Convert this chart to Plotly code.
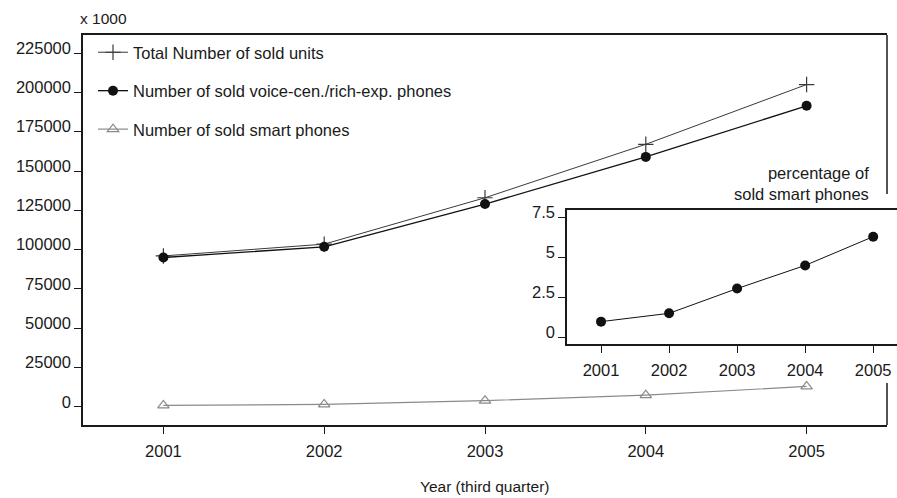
import plotly.graph_objects as go

# Sales of mobile phones, third quarter of each year (in thousands of units)
years = [2001, 2002, 2003, 2004, 2005]
total_units = [96000, 103500, 133000, 167000, 205000]
voice_rich_units = [95000, 101800, 129000, 159000, 191500]
smart_units = [950, 1600, 4000, 7500, 13000]

# Share of smart phones in all sold units (%)
smart_share = [0.98, 1.5, 3.05, 4.5, 6.3]

y_ticks = [0, 25000, 50000, 75000, 100000, 125000, 150000, 175000, 200000, 225000]
inset_ticks = [0, 2.5, 5, 7.5]

FONT = "Liberation Sans, Arial, sans-serif"
FS = 16.5
TXT = "#1a1a1a"

W, H = 897, 498
L, T, B = 83, 35, 73
plot_w = W - L
plot_h = H - T - B


def px_x(x):
    return (x - L) / plot_w


def px_y(y):
    return (H - B - y) / plot_h


main_right = px_x(887)

fig = go.Figure()

fig.add_trace(go.Scatter(
    x=years, y=total_units, mode="lines+markers",
    name="Total Number of sold units", legendgroup="a",
    line=dict(color="#3a3a3a", width=1),
    marker=dict(symbol="cross-thin", size=11, line=dict(color="#3a3a3a", width=1.2)),
))
fig.add_trace(go.Scatter(
    x=years, y=voice_rich_units, mode="lines+markers",
    name="Number of sold voice-cen./rich-exp. phones", legendgroup="b",
    line=dict(color="#111111", width=1.3),
    marker=dict(symbol="circle", size=10, color="#111111"),
))
fig.add_trace(go.Scatter(
    x=years, y=smart_units, mode="lines+markers",
    name="Number of sold smart phones", legendgroup="c",
    line=dict(color="#8a8a8a", width=1.2),
    marker=dict(symbol="triangle-up-open", size=10, color="#8a8a8a",
                line=dict(color="#8a8a8a", width=1.2)),
))

# Inset: percentage of smart phones
fig.add_trace(go.Scatter(
    x=years, y=smart_share, mode="lines+markers", xaxis="x2", yaxis="y2",
    showlegend=False,
    line=dict(color="#111111", width=1),
    marker=dict(symbol="circle", size=10, color="#111111"),
))

axis_common = dict(
    showgrid=False, zeroline=False, showline=True, linecolor="#1a1a1a", linewidth=1.5,
    ticks="outside", ticklen=7, tickcolor="#1a1a1a", tickwidth=1,
    tickfont=dict(family=FONT, size=FS, color=TXT),
)

fig.update_layout(
    width=W, height=H,
    margin=dict(l=L, r=0, t=T, b=B),
    paper_bgcolor="white", plot_bgcolor="white",
    font=dict(family=FONT, size=FS, color=TXT),
    xaxis=dict(axis_common, domain=[0, main_right], range=[2000.5, 2005.5],
               tickvals=years, ticktext=[str(y) for y in years], mirror=True,
               ticklabelstandoff=3),
    yaxis=dict(axis_common, domain=[0, 1], range=[-11500, 236500],
               tickvals=y_ticks, ticktext=[str(v) for v in y_ticks], ticklabelshift=-5),
    xaxis2=dict(axis_common, anchor="y2", domain=[px_x(567), 1], range=[2000.5, 2005.35],
                tickvals=years, ticktext=[str(y) for y in years], mirror=True,
                ticklabelstandoff=3),
    yaxis2=dict(axis_common, anchor="x2", domain=[px_y(344), px_y(210)], range=[-0.42, 7.97],
                tickvals=inset_ticks, ticktext=["0", "2.5", "5", "7.5"], ticklabelshift=-5),
    legend=dict(x=px_x(93), y=px_y(35), xanchor="left", yanchor="top",
                bgcolor="rgba(0,0,0,0)", tracegroupgap=14,
                font=dict(family=FONT, size=FS, color=TXT)),
    showlegend=True,
)

# Right edge of the main frame, interrupted by the inset
for y0, y1 in [(px_y(194), 1), (0, px_y(383))]:
    fig.add_shape(type="line", xref="paper", yref="paper",
                  x0=main_right, x1=main_right, y0=y0, y1=y1,
                  line=dict(color="#1a1a1a", width=1.5))

fig.add_annotation(x=px_x(78), y=px_y(19), xref="paper", yref="paper",
                   text="x 1000", showarrow=False, xanchor="left", yanchor="middle",
                   font=dict(family=FONT, size=FS - 1, color=TXT))
fig.add_annotation(x=px_x(485), y=px_y(487), xref="paper", yref="paper",
                   text="Year (third quarter)", showarrow=False,
                   xanchor="center", yanchor="middle",
                   font=dict(family=FONT, size=FS - 1, color=TXT))
fig.add_annotation(x=px_x(871), y=px_y(183), xref="paper", yref="paper",
                   text="percentage of<br>sold smart phones", showarrow=False,
                   xanchor="right", yanchor="middle", align="right",
                   font=dict(family=FONT, size=FS, color=TXT))

fig.write_html("out.html")
